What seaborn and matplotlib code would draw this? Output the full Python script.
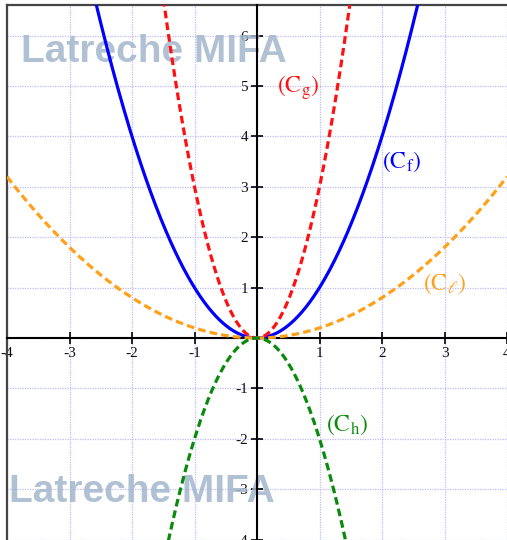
import numpy as np
import pandas as pd
import seaborn as sns
import matplotlib
matplotlib.use("Agg")
import matplotlib.pyplot as plt

# Parabolas y = a * x^2
curve_names = ["f", "g", "l", "h"]
curve_coefs = [1.0, 3.0, 0.2, -2.0]
curve_colors = ["#0000ff", "#ff1010", "#ffa018", "#0a8a0a"]
curve_labels = [r"$\left(\mathrm{C}_{\mathrm{f}}\right)$",
                r"$\left(\mathrm{C}_{\mathrm{g}}\right)$",
                r"$\left(\mathrm{C}_{\ell}\right)$",
                r"$\left(\mathrm{C}_{\mathrm{h}}\right)$"]
label_pos = [(2.32, 3.49), (0.66, 4.96), (3.0, 1.07), (1.44, -1.73)]

x_ticks = [-4, -3, -2, -1, 1, 2, 3, 4]
y_ticks = [-4, -3, -2, -1, 1, 2, 3, 4, 5, 6]
x_range = (-4, 4)
y_range = (-4, 6.6)

watermark = "Latreche MIFA"
watermark_pos = [(-1.65, 5.67), (-1.84, -3.06)]

xs = np.linspace(x_range[0], x_range[1], 801)
frames = []
for name, a in zip(curve_names, curve_coefs):
    frames.append(pd.DataFrame({"x": xs, "y": a * xs ** 2, "curve": name}))
df = pd.concat(frames, ignore_index=True)

sns.set_theme(style="white")
plt.rcParams["mathtext.fontset"] = "stix"
plt.rcParams["font.family"] = ["Liberation Serif", "DejaVu Serif"]

fig = plt.figure(figsize=(5.07, 5.40), dpi=100)
ax = fig.add_axes([7 / 507, 0.4 / 540, 500 / 507, 534.2 / 540])

palette = dict(zip(curve_names, curve_colors))
dash = (2.4, 1.3)
dashes = {"f": "", "g": dash, "l": dash, "h": dash}
sns.lineplot(data=df, x="x", y="y", hue="curve", style="curve",
             palette=palette, dashes=dashes, estimator=None, sort=False,
             linewidth=2.3, legend=False, ax=ax, zorder=5)

ax.set_xlim(*x_range)
ax.set_ylim(*y_range)

# grid at every integer
for v in range(-4, 5):
    ax.axvline(v, color="#bcbcf8", lw=0.9, ls=(0, (1, 1)), zorder=0)
for v in range(-4, 7):
    ax.axhline(v, color="#bcbcf8", lw=0.9, ls=(0, (1, 1)), zorder=0)

# axes through the origin
ax.spines["left"].set_position(("data", 0))
ax.spines["bottom"].set_position(("data", 0))
for s in ("left", "bottom"):
    ax.spines[s].set_color("black")
    ax.spines[s].set_linewidth(1.5)
    ax.spines[s].set_zorder(4)
# outer frame on the left and top
ax.spines["right"].set_position(("axes", 0))
ax.spines["right"].set_color("#444444")
ax.spines["right"].set_linewidth(1.6)
ax.spines["top"].set_color("#444444")
ax.spines["top"].set_linewidth(1.6)
ax.xaxis.set_ticks_position("bottom")
ax.yaxis.set_ticks_position("left")

ax.set_xticks(x_ticks)
ax.set_yticks(y_ticks)
ax.set_xticklabels([str(v) for v in x_ticks])
ax.set_yticklabels([str(v) for v in y_ticks])
ax.tick_params(axis="both", direction="inout", length=9, width=1.2,
               color="black", labelsize=11, labelcolor="#111111", pad=2)
ax.set_xlabel("")
ax.set_ylabel("")

# curve names
for (lx, ly), lab, col in zip(label_pos, curve_labels, curve_colors):
    ax.text(lx, ly, lab, color=col, fontsize=17, ha="center", va="center",
            zorder=6)

# watermark
wm = dict(fontsize=28, fontweight="bold", color="#a3b6cc", alpha=0.85,
          ha="center", va="center", zorder=3,
          family=["Liberation Sans", "DejaVu Sans"])
for wx, wy in watermark_pos:
    ax.text(wx, wy, watermark, **wm)

fig.savefig("out.png", dpi=100)
